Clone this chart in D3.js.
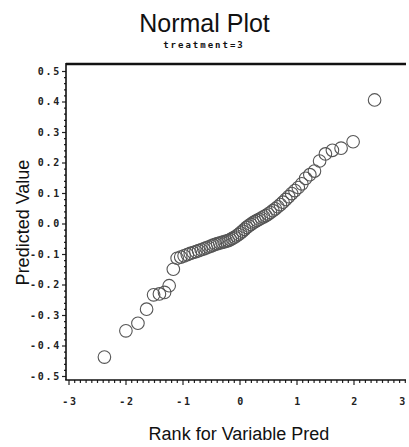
<!DOCTYPE html>
<html>
<head>
<meta charset="utf-8">
<script src="https://cdn.jsdelivr.net/npm/d3@7/dist/d3.min.js"></script>
<style>
  html, body { margin: 0; padding: 0; background: #fff; }
  svg { display: block; }
  .tick text { font-family: "DejaVu Sans Mono", monospace; font-weight: bold; font-size: 10px; letter-spacing: 1.7px; fill: #222; }
  .tick line { stroke: #222; stroke-width: 1.2; }
</style>
</head>
<body>
<svg id="chart" width="409" height="447"></svg>
<script>
// Normal scores (Blom ranks) for the 70 predicted values, in rank order
const rankScores = [
  -2.370, -1.993, -1.782, -1.630, -1.507, -1.405, -1.315, -1.234, -1.161, -1.094,
  -1.031, -0.972, -0.916, -0.863, -0.813, -0.764, -0.717, -0.672, -0.628, -0.585,
  -0.543, -0.502, -0.462, -0.423, -0.384, -0.346, -0.308, -0.271, -0.234, -0.198,
  -0.161, -0.125, -0.089, -0.054, -0.018, 0.018, 0.054, 0.089, 0.125, 0.161,
  0.198, 0.234, 0.271, 0.308, 0.346, 0.384, 0.423, 0.462, 0.502, 0.543,
  0.585, 0.628, 0.672, 0.717, 0.764, 0.813, 0.863, 0.916, 0.972, 1.031,
  1.094, 1.161, 1.234, 1.315, 1.405, 1.507, 1.630, 1.782, 1.993, 2.370
];

// Sorted predicted values for treatment=3
const predicted = [
  -0.438, -0.352, -0.327, -0.281, -0.234, -0.231, -0.226, -0.204, -0.150, -0.114,
  -0.110, -0.106, -0.102, -0.098, -0.095, -0.092, -0.089, -0.086, -0.083, -0.080,
  -0.077, -0.074, -0.071, -0.068, -0.066, -0.064, -0.062, -0.060, -0.058, -0.056,
  -0.053, -0.049, -0.045, -0.041, -0.036, -0.031, -0.025, -0.019, -0.013, -0.008,
  -0.003, 0.002, 0.006, 0.010, 0.014, 0.018, 0.022, 0.026, 0.031, 0.036,
  0.042, 0.048, 0.055, 0.062, 0.070, 0.079, 0.088, 0.098, 0.108, 0.118,
  0.130, 0.148, 0.160, 0.172, 0.205, 0.228, 0.240, 0.247, 0.268, 0.405
];

const xTicks = [-3, -2, -1, 0, 1, 2, 3];
const yTicks = [-0.5, -0.4, -0.3, -0.2, -0.1, 0.0, 0.1, 0.2, 0.3, 0.4, 0.5];
const xMinorStep = 0.1;
const yMinorStep = 0.02;

const titleText = "Normal Plot";
const subtitleText = "treatment=3";
const xLabel = "Rank for Variable Pred";
const yLabel = "Predicted Value";

const svg = d3.select("#chart");

const x = d3.scaleLinear().domain([-3, 3]).range([68.5, 410.5]);
const y = d3.scaleLinear().domain([-0.5, 0.5]).range([376, 71]);

const frameLeft = 66, frameRight = 406, frameTop = 64, frameBottom = 380;

const xMinor = d3.range(-3, 3.0001, xMinorStep).map(v => +v.toFixed(2))
  .filter(v => x(v) <= frameRight && Math.abs(v - Math.round(v)) > 1e-6);
const yMinor = d3.range(-0.5, 0.5001, yMinorStep).map(v => +v.toFixed(3))
  .filter(v => Math.abs(v * 10 - Math.round(v * 10)) > 1e-6);

// minor ticks
svg.append("g")
  .attr("transform", `translate(0,${frameBottom})`)
  .call(d3.axisBottom(x).tickValues(xMinor).tickSize(3).tickFormat(""))
  .call(g => g.select(".domain").remove());
svg.append("g")
  .attr("transform", `translate(${frameLeft},0)`)
  .call(d3.axisLeft(y).tickValues(yMinor).tickSize(2).tickFormat(""))
  .call(g => g.select(".domain").remove());

// major ticks and labels
const gx = svg.append("g")
  .attr("transform", `translate(0,${frameBottom})`)
  .call(d3.axisBottom(x).tickValues(xTicks).tickSize(5).tickPadding(13).tickFormat(d => String(d)))
  .call(g => g.select(".domain").remove());
gx.selectAll(".tick text").attr("dx", "1px");
gx.selectAll(".tick").filter(d => d === 3).select("text").attr("x", -9);

svg.append("g")
  .attr("transform", `translate(${frameLeft},0)`)
  .call(d3.axisLeft(y).tickValues(yTicks).tickSize(4).tickPadding(1)
    .tickFormat(d => (Math.abs(d) < 1e-9 ? 0 : d).toFixed(1)))
  .call(g => g.select(".domain").remove());

// frame
svg.append("line").attr("x1", frameLeft).attr("x2", frameRight)
  .attr("y1", frameTop).attr("y2", frameTop)
  .attr("stroke", "#111").attr("stroke-width", 2.4);
svg.append("line").attr("x1", frameLeft).attr("x2", frameLeft)
  .attr("y1", frameTop - 1).attr("y2", frameBottom)
  .attr("stroke", "#111").attr("stroke-width", 1.6);
svg.append("line").attr("x1", frameLeft - 0.8).attr("x2", frameRight)
  .attr("y1", frameBottom).attr("y2", frameBottom)
  .attr("stroke", "#111").attr("stroke-width", 1.6);

// points
svg.append("g")
  .selectAll("circle")
  .data(rankScores.map((r, i) => ({ r, v: predicted[i] })))
  .join("circle")
  .attr("cx", d => x(d.r))
  .attr("cy", d => y(d.v))
  .attr("r", 6.3)
  .attr("fill", "none")
  .attr("stroke", "#555")
  .attr("stroke-width", 1.1);

// titles
svg.append("text")
  .attr("x", 204.5).attr("y", 31.5)
  .attr("text-anchor", "middle")
  .style("font-family", "'Liberation Sans', Arial, sans-serif")
  .style("font-size", "25px")
  .style("fill", "#111")
  .text(titleText);

svg.append("text")
  .attr("x", 204).attr("y", 48)
  .attr("text-anchor", "middle")
  .style("font-family", "'DejaVu Sans Mono', monospace")
  .style("font-weight", "bold")
  .style("font-size", "9px")
  .style("letter-spacing", "2px")
  .style("fill", "#111")
  .text(subtitleText);

svg.append("text")
  .attr("x", 239).attr("y", 440)
  .attr("text-anchor", "middle")
  .style("font-family", "'Liberation Sans', Arial, sans-serif")
  .style("font-size", "18px")
  .style("fill", "#111")
  .text(xLabel);

svg.append("text")
  .attr("transform", "translate(29,222.5) rotate(-90)")
  .attr("text-anchor", "middle")
  .style("font-family", "'Liberation Sans', Arial, sans-serif")
  .style("font-size", "18px")
  .style("fill", "#111")
  .text(yLabel);
</script>
</body>
</html>
